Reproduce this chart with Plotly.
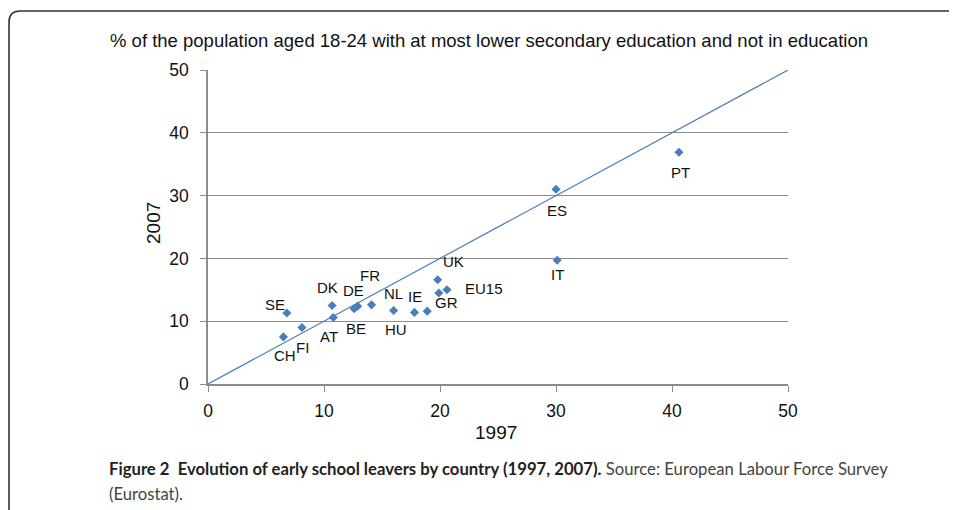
import plotly.graph_objects as go

countries = ["SE", "CH", "FI", "DK", "AT", "BE", "DE", "FR", "NL", "HU", "IE",
             "GR", "UK", "EU15", "ES", "IT", "PT"]
y1997 = [6.8, 6.5, 8.1, 10.7, 10.8, 12.6, 12.9, 14.1, 16.0, 17.8, 18.9,
         19.9, 19.8, 20.6, 30.0, 30.1, 40.6]
y2007 = [11.3, 7.5, 9.0, 12.5, 10.6, 12.0, 12.4, 12.6, 11.7, 11.4, 11.6,
         14.5, 16.6, 15.0, 31.0, 19.7, 36.9]
# label pixel offsets (style only)
lab_dx = [-12, 2, 1, -5, -4, 2, -4, -2, 0, -18, -12, 8, 16, 37, 1, 0, 2]
lab_dy = [9, -19, -20, 18, -19, -20, 16, 29, 17, -17, 15, -10, 18, 1, -21, -14, -20]
diag = [0, 50]

W, H = 957, 510
O = 8  # page body margin offset
L, R, T, B = 208 - O, 788 - O, 70 - O, 384 - O

def px(x):
    return (x - O - L) / (R - L)

def py(y):
    return (B - (y - O)) / (B - T)

blue = "#4a7ebb"
grid = "#8c8c8c"
FONT = "Liberation Sans, Arial"
CAP = "Lato, Liberation Sans, Arial"

fig = go.Figure()
fig.add_trace(go.Scatter(x=diag, y=diag, mode="lines",
                         line=dict(color=blue, width=1.2), hoverinfo="skip"))
fig.add_trace(go.Scatter(x=y1997, y=y2007, mode="markers",
                         marker=dict(symbol="diamond", size=7, color=blue),
                         text=countries))

annos = []
for c, x, y, dx, dy in zip(countries, y1997, y2007, lab_dx, lab_dy):
    annos.append(dict(x=x, y=y, xref="x", yref="y", text=c, showarrow=False,
                      xanchor="center", yanchor="middle",
                      xshift=dx, yshift=dy,
                      font=dict(family=FONT, size=15, color="#111")))

def pa(x, y, text, size, family=FONT, color="#111", xanchor="center", angle=0):
    return dict(x=px(x), y=py(y), xref="paper", yref="paper", text=text,
                xanchor=xanchor, yanchor="middle", textangle=angle,
                showarrow=False, font=dict(family=family, size=size, color=color))

annos.append(pa(489, 40, "% of the population aged 18-24 with at most lower secondary education and not in education", 18.5))
annos.append(pa(153, 223, "2007", 19, angle=-90))
annos.append(pa(496, 432, "1997", 19))
annos.append(pa(107, 469, "<b>Figure 2  Evolution of early school leavers by country (1997, 2007).</b> "
                          "<span style='color:#444'>Source: European Labour Force Survey</span>",
                16.7, family=CAP, color="#222", xanchor="left"))
annos.append(pa(107, 494, "(Eurostat).", 16.7, family=CAP, color="#444", xanchor="left"))

# frame with rounded top-left corner
x0, yb, yt, xr, r = 9, 515, 11, 965, 11
path = (f"M {px(x0)},{py(yb)} L {px(x0)},{py(yt + r)} "
        f"Q {px(x0)},{py(yt)} {px(x0 + r)},{py(yt)} L {px(xr)},{py(yt)}")
shapes = [dict(type="path", path=path, xref="paper", yref="paper",
               line=dict(color="#333", width=1.6))]

fig.update_layout(
    width=W, height=H, showlegend=False,
    margin=dict(l=L, r=W - R, t=T, b=H - B, pad=0),
    paper_bgcolor="white", plot_bgcolor="white",
    annotations=annos, shapes=shapes,
    xaxis=dict(range=[0, 50], tickvals=[0, 10, 20, 30, 40, 50], showgrid=False,
               zeroline=False, showline=True, linecolor=grid, linewidth=1.5,
               ticks="outside", ticklen=6, tickcolor=grid, tickwidth=1.2,
               ticklabelstandoff=4,
               tickfont=dict(family=FONT, size=17.5, color="#111")),
    yaxis=dict(range=[0, 50], tickvals=[0, 10, 20, 30, 40, 50], showgrid=True,
               gridcolor=grid, gridwidth=1.2, zeroline=False, showline=True,
               linecolor=grid, linewidth=1.5, ticks="outside", ticklen=6,
               tickcolor=grid, tickwidth=1.2, ticklabelstandoff=8,
               tickfont=dict(family=FONT, size=17.5, color="#111")),
)
fig.write_html("out.html")
